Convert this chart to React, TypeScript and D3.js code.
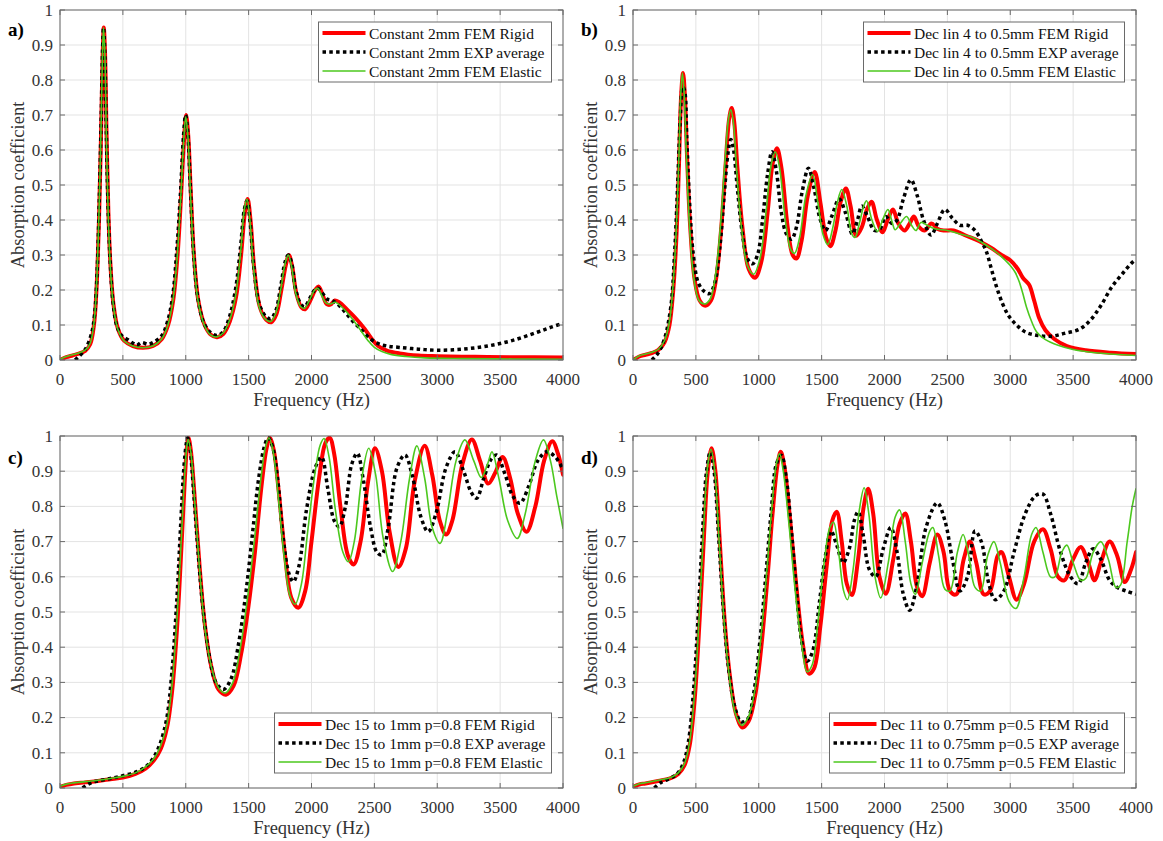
import React from "react";
import * as d3 from "d3";

type Pt = [number, number];

// ---------- axis ticks ----------
const freqTicks = [0, 500, 1000, 1500, 2000, 2500, 3000, 3500, 4000];
const absTicks = [0, 0.1, 0.2, 0.3, 0.4, 0.5, 0.6, 0.7, 0.8, 0.9, 1];

// ---------- panel a ----------
const aRigid: Pt[] = [[0,0.0],[50,0.008],[100,0.013],[150,0.018],[200,0.026],[240,0.045],[270,0.1],[290,0.2],[310,0.4],[325,0.62],[338,0.85],[348,0.95],[358,0.88],[370,0.65],[385,0.42],[400,0.28],[425,0.16],[460,0.09],[510,0.055],[580,0.04],[660,0.035],[740,0.04],[810,0.06],[860,0.1],[900,0.17],[935,0.3],[960,0.45],[985,0.62],[1003,0.7],[1020,0.64],[1040,0.48],[1065,0.3],[1100,0.17],[1150,0.1],[1200,0.072],[1250,0.065],[1300,0.075],[1350,0.11],[1400,0.18],[1440,0.3],[1470,0.42],[1492,0.46],[1515,0.4],[1545,0.26],[1590,0.15],[1640,0.115],[1680,0.108],[1720,0.13],[1760,0.2],[1795,0.27],[1820,0.3],[1845,0.27],[1880,0.19],[1920,0.15],[1950,0.145],[1990,0.17],[2030,0.2],[2055,0.21],[2085,0.19],[2120,0.16],[2150,0.158],[2185,0.17],[2220,0.165],[2280,0.145],[2350,0.12],[2420,0.09],[2480,0.06],[2530,0.04],[2600,0.027],[2700,0.019],[2850,0.013],[3000,0.011],[3300,0.009],[3600,0.008],[4000,0.007]];
const aExp: Pt[] = [[120,0.0],[150,0.01],[200,0.03],[250,0.075],[275,0.13],[295,0.25],[312,0.45],[327,0.68],[338,0.88],[346,0.95],[356,0.88],[368,0.66],[382,0.44],[398,0.29],[420,0.17],[450,0.1],[490,0.07],[540,0.058],[580,0.048],[610,0.042],[650,0.05],[700,0.045],[750,0.052],[810,0.07],[855,0.11],[895,0.18],[930,0.32],[957,0.47],[982,0.64],[999,0.7],[1016,0.65],[1036,0.5],[1060,0.32],[1095,0.18],[1145,0.105],[1200,0.078],[1250,0.07],[1300,0.082],[1345,0.12],[1395,0.2],[1435,0.32],[1466,0.43],[1488,0.455],[1510,0.4],[1540,0.27],[1585,0.16],[1635,0.125],[1675,0.118],[1715,0.14],[1755,0.21],[1790,0.28],[1815,0.3],[1840,0.28],[1875,0.2],[1915,0.16],[1945,0.152],[1985,0.175],[2025,0.2],[2050,0.205],[2080,0.195],[2120,0.175],[2160,0.17],[2200,0.162],[2260,0.14],[2330,0.11],[2400,0.085],[2470,0.06],[2530,0.047],[2600,0.04],[2700,0.036],[2850,0.031],[3000,0.028],[3200,0.031],[3400,0.04],[3600,0.056],[3800,0.08],[3900,0.093],[4000,0.105]];
const aElastic: Pt[] = [[0,0.002],[50,0.01],[100,0.015],[150,0.02],[200,0.028],[240,0.048],[270,0.105],[290,0.21],[310,0.42],[325,0.64],[337,0.86],[346,0.95],[356,0.88],[368,0.65],[383,0.42],[398,0.28],[423,0.16],[458,0.09],[508,0.055],[578,0.04],[658,0.035],[738,0.04],[808,0.06],[858,0.1],[898,0.17],[933,0.3],[958,0.45],[983,0.62],[1000,0.695],[1017,0.64],[1037,0.48],[1062,0.3],[1097,0.17],[1147,0.1],[1197,0.072],[1247,0.066],[1297,0.077],[1347,0.112],[1397,0.185],[1437,0.31],[1466,0.43],[1487,0.46],[1510,0.4],[1540,0.26],[1585,0.15],[1635,0.116],[1675,0.11],[1715,0.133],[1755,0.2],[1790,0.275],[1815,0.3],[1840,0.27],[1875,0.19],[1915,0.152],[1945,0.148],[1985,0.172],[2025,0.2],[2050,0.205],[2080,0.185],[2115,0.163],[2150,0.16],[2190,0.165],[2230,0.155],[2280,0.137],[2340,0.11],[2400,0.08],[2450,0.055],[2500,0.036],[2560,0.024],[2630,0.016],[2750,0.01],[2900,0.006],[3200,0.004],[3600,0.003],[4000,0.002]];

// ---------- panel b ----------
const bRigid: Pt[] = [[0,0.0],[50,0.01],[100,0.015],[150,0.02],[200,0.028],[250,0.05],[290,0.1],[320,0.2],[345,0.35],[365,0.55],[382,0.75],[398,0.82],[412,0.76],[430,0.58],[455,0.38],[490,0.23],[530,0.17],[575,0.155],[620,0.17],[660,0.23],[700,0.37],[735,0.55],[765,0.69],[785,0.72],[805,0.68],[830,0.55],[870,0.38],[920,0.26],[970,0.235],[1020,0.28],[1070,0.42],[1110,0.56],[1145,0.605],[1180,0.55],[1230,0.38],[1270,0.3],[1300,0.29],[1340,0.34],[1390,0.47],[1445,0.537],[1490,0.45],[1535,0.35],[1570,0.325],[1610,0.37],[1650,0.45],[1693,0.49],[1730,0.44],[1775,0.355],[1820,0.38],[1860,0.43],[1897,0.452],[1940,0.4],[1985,0.365],[2025,0.4],[2067,0.43],[2110,0.39],[2160,0.37],[2200,0.39],[2234,0.41],[2275,0.38],[2320,0.37],[2374,0.39],[2420,0.375],[2470,0.37],[2550,0.37],[2650,0.355],[2750,0.34],[2850,0.32],[2930,0.3],[3000,0.285],[3060,0.26],[3100,0.235],[3150,0.215],[3190,0.17],[3230,0.12],[3280,0.085],[3350,0.06],[3450,0.04],[3600,0.028],[3800,0.021],[4000,0.017]];
const bExp: Pt[] = [[150,0.0],[200,0.02],[250,0.06],[300,0.15],[330,0.3],[355,0.5],[375,0.68],[395,0.78],[410,0.77],[428,0.63],[450,0.45],[480,0.3],[520,0.22],[570,0.195],[610,0.19],[650,0.22],[690,0.32],[725,0.47],[755,0.59],[778,0.63],[800,0.6],[830,0.49],[870,0.36],[910,0.29],[950,0.275],[990,0.3],[1030,0.4],[1070,0.53],[1105,0.595],[1140,0.54],[1180,0.42],[1220,0.36],[1260,0.345],[1300,0.38],[1345,0.48],[1395,0.548],[1440,0.49],[1490,0.4],[1530,0.37],[1580,0.41],[1640,0.46],[1690,0.42],[1745,0.36],[1785,0.4],[1820,0.44],[1865,0.41],[1920,0.37],[1965,0.375],[2010,0.41],[2060,0.39],[2100,0.4],[2150,0.46],[2210,0.515],[2260,0.47],[2310,0.4],[2370,0.357],[2420,0.39],[2480,0.43],[2540,0.405],[2600,0.385],[2660,0.385],[2720,0.37],[2770,0.34],[2810,0.31],[2850,0.26],[2890,0.21],[2940,0.16],[2990,0.125],[3050,0.1],[3120,0.08],[3220,0.07],[3330,0.068],[3430,0.076],[3550,0.088],[3640,0.115],[3720,0.155],[3810,0.21],[3900,0.25],[3960,0.275],[4000,0.288]];
const bElastic: Pt[] = [[0,0.0],[50,0.012],[100,0.017],[150,0.022],[200,0.03],[250,0.055],[290,0.11],[320,0.22],[345,0.38],[365,0.58],[380,0.76],[393,0.82],[407,0.76],[425,0.58],[450,0.38],[485,0.23],[525,0.17],[570,0.16],[615,0.175],[655,0.24],[695,0.38],[730,0.56],[760,0.69],[778,0.715],[798,0.68],[823,0.55],[862,0.38],[910,0.27],[960,0.245],[1010,0.29],[1060,0.43],[1100,0.56],[1132,0.595],[1165,0.55],[1215,0.39],[1255,0.315],[1285,0.305],[1325,0.35],[1375,0.47],[1428,0.53],[1470,0.45],[1510,0.36],[1548,0.33],[1590,0.38],[1625,0.45],[1660,0.487],[1700,0.44],[1740,0.36],[1765,0.35],[1800,0.39],[1835,0.44],[1857,0.455],[1900,0.4],[1945,0.367],[1985,0.4],[2027,0.43],[2060,0.395],[2085,0.372],[2125,0.39],[2176,0.41],[2215,0.385],[2250,0.37],[2290,0.393],[2340,0.385],[2400,0.375],[2500,0.37],[2600,0.36],[2700,0.35],[2800,0.33],[2900,0.305],[2960,0.285],[3000,0.27],[3040,0.25],[3070,0.225],[3100,0.19],[3130,0.15],[3170,0.11],[3210,0.08],[3280,0.058],[3380,0.042],[3500,0.03],[3700,0.02],[4000,0.013]];

// ---------- panel c ----------
const cRigid: Pt[] = [[0,0.003],[50,0.009],[100,0.012],[200,0.016],[300,0.02],[400,0.025],[500,0.03],[600,0.04],[680,0.055],[750,0.08],[800,0.11],[850,0.17],[890,0.27],[930,0.45],[965,0.68],[990,0.86],[1010,0.97],[1022,0.995],[1040,0.96],[1070,0.83],[1110,0.63],[1150,0.47],[1200,0.35],[1260,0.28],[1320,0.265],[1380,0.29],[1440,0.38],[1500,0.52],[1550,0.67],[1600,0.85],[1640,0.96],[1668,0.995],[1700,0.96],[1740,0.84],[1790,0.66],[1840,0.54],[1895,0.512],[1950,0.56],[2000,0.7],[2060,0.88],[2110,0.98],[2145,0.995],[2180,0.95],[2230,0.8],[2290,0.66],[2335,0.635],[2390,0.7],[2450,0.87],[2505,0.965],[2560,0.9],[2620,0.73],[2690,0.628],[2750,0.68],[2820,0.87],[2900,0.972],[2960,0.89],[3020,0.76],[3070,0.72],[3120,0.76],[3200,0.92],[3275,0.99],[3340,0.93],[3405,0.865],[3460,0.895],[3520,0.94],[3580,0.88],[3640,0.78],[3710,0.728],[3780,0.8],[3850,0.93],[3915,0.985],[3960,0.95],[4000,0.89]];
const cExp: Pt[] = [[180,0.0],[220,0.01],[260,0.017],[300,0.02],[400,0.027],[500,0.035],[600,0.045],[680,0.06],[750,0.09],[800,0.13],[850,0.2],[890,0.33],[930,0.54],[960,0.75],[985,0.91],[1005,0.98],[1015,0.995],[1035,0.96],[1065,0.83],[1100,0.66],[1140,0.5],[1190,0.37],[1240,0.3],[1300,0.28],[1360,0.31],[1420,0.41],[1480,0.56],[1530,0.72],[1580,0.88],[1625,0.97],[1655,0.995],[1690,0.97],[1730,0.88],[1775,0.71],[1820,0.61],[1855,0.586],[1900,0.63],[1960,0.79],[2030,0.91],[2080,0.94],[2130,0.85],[2180,0.76],[2221,0.742],[2270,0.8],[2320,0.92],[2364,0.951],[2410,0.88],[2470,0.74],[2520,0.67],[2558,0.662],[2610,0.74],[2680,0.91],[2743,0.946],[2800,0.89],[2870,0.77],[2928,0.728],[2990,0.78],[3070,0.91],[3141,0.955],[3210,0.9],[3270,0.84],[3313,0.823],[3370,0.88],[3430,0.935],[3472,0.946],[3540,0.89],[3600,0.83],[3658,0.809],[3730,0.86],[3800,0.93],[3870,0.955],[3940,0.94],[4000,0.905]];
const cElastic: Pt[] = [[0,0.005],[50,0.011],[100,0.014],[200,0.018],[300,0.022],[400,0.027],[500,0.033],[600,0.043],[680,0.06],[750,0.085],[800,0.12],[850,0.18],[890,0.29],[930,0.48],[965,0.71],[990,0.88],[1010,0.975],[1020,0.99],[1040,0.955],[1070,0.82],[1110,0.62],[1150,0.46],[1200,0.35],[1260,0.285],[1315,0.27],[1375,0.3],[1435,0.4],[1495,0.55],[1545,0.7],[1595,0.87],[1635,0.97],[1662,0.995],[1695,0.955],[1735,0.83],[1785,0.65],[1830,0.545],[1870,0.522],[1920,0.58],[1970,0.73],[2030,0.9],[2070,0.975],[2100,0.993],[2140,0.94],[2190,0.79],[2250,0.67],[2293,0.643],[2340,0.7],[2400,0.88],[2455,0.965],[2510,0.89],[2570,0.71],[2645,0.615],[2710,0.7],[2780,0.88],[2838,0.972],[2900,0.88],[2960,0.74],[3022,0.695],[3080,0.78],[3150,0.93],[3220,0.989],[3290,0.93],[3350,0.882],[3400,0.92],[3435,0.955],[3490,0.88],[3560,0.76],[3636,0.709],[3700,0.78],[3780,0.93],[3845,0.989],[3900,0.93],[3950,0.83],[4000,0.738]];

// ---------- panel d ----------
const dRigid: Pt[] = [[0,0.003],[50,0.01],[100,0.013],[200,0.02],[300,0.028],[360,0.04],[410,0.065],[450,0.12],[490,0.25],[530,0.48],[565,0.72],[595,0.9],[625,0.965],[655,0.9],[690,0.7],[730,0.47],[770,0.32],[820,0.21],[870,0.172],[920,0.19],[970,0.26],[1020,0.4],[1070,0.6],[1110,0.78],[1150,0.92],[1175,0.955],[1205,0.91],[1250,0.76],[1300,0.57],[1350,0.41],[1400,0.325],[1440,0.34],[1490,0.46],[1540,0.63],[1585,0.76],[1620,0.785],[1660,0.7],[1700,0.58],[1740,0.548],[1790,0.65],[1835,0.8],[1870,0.85],[1910,0.78],[1960,0.6],[2010,0.552],[2070,0.65],[2120,0.75],[2165,0.78],[2210,0.7],[2260,0.57],[2300,0.545],[2360,0.64],[2420,0.72],[2470,0.67],[2520,0.56],[2570,0.55],[2630,0.65],[2680,0.7],[2730,0.64],[2790,0.55],[2840,0.56],[2900,0.66],[2930,0.67],[2990,0.6],[3050,0.535],[3110,0.58],[3190,0.7],[3260,0.735],[3320,0.68],[3380,0.6],[3430,0.59],[3500,0.65],[3560,0.685],[3620,0.64],[3670,0.59],[3720,0.64],[3790,0.7],[3850,0.66],[3910,0.585],[3960,0.62],[4000,0.67]];
const dExp: Pt[] = [[170,0.0],[220,0.015],[280,0.025],[350,0.04],[400,0.07],[440,0.13],[480,0.27],[520,0.5],[555,0.74],[585,0.9],[615,0.955],[645,0.9],[680,0.72],[720,0.5],[760,0.34],[810,0.23],[860,0.188],[910,0.195],[960,0.27],[1010,0.42],[1060,0.62],[1100,0.79],[1140,0.92],[1180,0.945],[1215,0.89],[1260,0.73],[1300,0.56],[1340,0.42],[1385,0.36],[1430,0.39],[1480,0.52],[1530,0.66],[1575,0.73],[1620,0.69],[1670,0.64],[1720,0.68],[1760,0.76],[1790,0.785],[1830,0.72],[1880,0.62],[1930,0.6],[1990,0.68],[2050,0.74],[2100,0.67],[2150,0.55],[2200,0.505],[2260,0.58],[2330,0.74],[2420,0.81],[2480,0.76],[2540,0.65],[2600,0.56],[2660,0.6],[2720,0.73],[2770,0.7],[2830,0.58],[2880,0.535],[2950,0.56],[3030,0.67],[3120,0.78],[3200,0.83],[3260,0.835],[3320,0.78],[3400,0.67],[3480,0.6],[3540,0.58],[3600,0.64],[3660,0.68],[3720,0.65],[3790,0.59],[3850,0.57],[3920,0.56],[4000,0.55]];
const dElastic: Pt[] = [[0,0.005],[50,0.012],[100,0.015],[200,0.022],[300,0.03],[360,0.043],[410,0.07],[450,0.13],[490,0.27],[528,0.5],[562,0.74],[592,0.91],[620,0.962],[650,0.9],[685,0.7],[725,0.47],[765,0.32],[815,0.21],[865,0.178],[915,0.2],[965,0.27],[1015,0.42],[1065,0.62],[1105,0.8],[1140,0.92],[1165,0.95],[1195,0.9],[1240,0.75],[1290,0.56],[1340,0.41],[1385,0.33],[1425,0.35],[1470,0.47],[1520,0.64],[1565,0.74],[1595,0.755],[1635,0.67],[1675,0.56],[1705,0.535],[1750,0.62],[1800,0.79],[1838,0.853],[1875,0.78],[1925,0.6],[1970,0.54],[2030,0.64],[2085,0.77],[2120,0.79],[2165,0.7],[2210,0.58],[2245,0.55],[2300,0.64],[2360,0.73],[2385,0.74],[2430,0.66],[2480,0.565],[2520,0.56],[2580,0.67],[2625,0.72],[2670,0.66],[2720,0.57],[2765,0.56],[2820,0.66],[2870,0.7],[2920,0.64],[2990,0.53],[3045,0.51],[3110,0.6],[3170,0.72],[3205,0.74],[3260,0.67],[3320,0.6],[3355,0.6],[3410,0.67],[3450,0.69],[3500,0.64],[3560,0.59],[3600,0.595],[3660,0.67],[3720,0.7],[3780,0.65],[3840,0.57],[3875,0.575],[3930,0.7],[3970,0.8],[4000,0.85]];

// ---------- legend names ----------
const aNames = ["Constant 2mm FEM Rigid", "Constant 2mm EXP average", "Constant 2mm FEM Elastic"];
const bNames = ["Dec lin 4 to 0.5mm FEM Rigid", "Dec lin 4 to 0.5mm EXP average", "Dec lin 4 to 0.5mm FEM Elastic"];
const cNames = ["Dec 15 to 1mm p=0.8 FEM Rigid", "Dec 15 to 1mm p=0.8 EXP average", "Dec 15 to 1mm p=0.8 FEM Elastic"];
const dNames = ["Dec 11 to 0.75mm p=0.5 FEM Rigid", "Dec 11 to 0.75mm p=0.5 EXP average", "Dec 11 to 0.75mm p=0.5 FEM Elastic"];

const FONT = "Liberation Serif, Times New Roman, Times, serif";
const RED = "#ff0000";
const GREEN = "#4cc81e";
const AXIS = "#6a6a6a";
const TXT = "#333333";

const styles = [
  { stroke: RED, width: 4, dash: undefined as string | undefined },
  { stroke: "#000000", width: 3.5, dash: "3.5 3.3" },
  { stroke: GREEN, width: 1.6, dash: undefined as string | undefined },
];

interface PanelCfg {
  id: string;
  label: string;
  left: number;
  top: number;
  w: number;
  h: number;
  series: Pt[][];
  names: string[];
  legendPos: "top" | "bottom";
  legendW: number;
}

const panels: PanelCfg[] = [
  { id: "a", label: "a)", left: 60, top: 10, w: 503, h: 350, series: [aRigid, aExp, aElastic], names: aNames, legendPos: "top", legendW: 233 },
  { id: "b", label: "b)", left: 633, top: 10, w: 503, h: 350, series: [bRigid, bExp, bElastic], names: bNames, legendPos: "top", legendW: 261 },
  { id: "c", label: "c)", left: 60, top: 436, w: 503, h: 352, series: [cRigid, cExp, cElastic], names: cNames, legendPos: "bottom", legendW: 277 },
  { id: "d", label: "d)", left: 633, top: 436, w: 503, h: 352, series: [dRigid, dExp, dElastic], names: dNames, legendPos: "bottom", legendW: 295 },
];

function Panel({ p }: { p: PanelCfg }) {
  const x = d3.scaleLinear().domain([0, 4000]).range([p.left, p.left + p.w]);
  const y = d3.scaleLinear().domain([0, 1]).range([p.top + p.h, p.top]);
  const line = d3
    .line<Pt>()
    .x((d) => x(d[0]))
    .y((d) => y(d[1]))
    .curve(d3.curveCatmullRom.alpha(0.5));
  const right = p.left + p.w;
  const bottom = p.top + p.h;
  const tl = 5;
  const lgRight = right - 11.5;
  const lgLeft = lgRight - p.legendW;
  const lgTop = p.legendPos === "top" ? p.top + 12 : bottom - 75;
  const lgH = 60;
  const clipId = "clip-" + p.id;
  const txtStyle = { fontFamily: FONT };
  return (
    <g>
      <defs>
        <clipPath id={clipId}>
          <rect x={p.left} y={p.top} width={p.w} height={p.h} />
        </clipPath>
      </defs>
      <rect x={p.left} y={p.top} width={p.w} height={p.h} fill="#fff" />
      {/* grid */}
      {freqTicks.map((t) => (
        <line key={"gx" + t} x1={x(t)} x2={x(t)} y1={p.top} y2={bottom} stroke="#e3e3e3" strokeWidth={1} />
      ))}
      {absTicks.map((t) => (
        <line key={"gy" + t} x1={p.left} x2={right} y1={y(t)} y2={y(t)} stroke="#e3e3e3" strokeWidth={1} />
      ))}
      {/* series */}
      <g clipPath={`url(#${clipId})`}>
        {p.series.map((s, i) => (
          <path
            key={i}
            d={line(s) || ""}
            fill="none"
            stroke={styles[i].stroke}
            strokeWidth={styles[i].width}
            strokeDasharray={styles[i].dash}
            strokeLinejoin="round"
            strokeLinecap={i === 1 ? "butt" : "round"}
          />
        ))}
      </g>
      {/* box */}
      <rect x={p.left} y={p.top} width={p.w} height={p.h} fill="none" stroke={AXIS} strokeWidth={1} />
      {/* ticks */}
      {freqTicks.map((t) => (
        <g key={"tx" + t}>
          <line x1={x(t)} x2={x(t)} y1={bottom} y2={bottom - tl} stroke={AXIS} />
          <line x1={x(t)} x2={x(t)} y1={p.top} y2={p.top + tl} stroke={AXIS} />
          <text x={x(t)} y={bottom + 25} textAnchor="middle" fontSize={17} fill={TXT} style={txtStyle}>
            {t}
          </text>
        </g>
      ))}
      {absTicks.map((t) => (
        <g key={"ty" + t}>
          <line x1={p.left} x2={p.left + tl} y1={y(t)} y2={y(t)} stroke={AXIS} />
          <line x1={right} x2={right - tl} y1={y(t)} y2={y(t)} stroke={AXIS} />
          <text x={p.left - 7} y={y(t) + 5.8} textAnchor="end" fontSize={17} fill={TXT} style={txtStyle}>
            {d3.format("~g")(t)}
          </text>
        </g>
      ))}
      {/* axis labels */}
      <text x={p.left + p.w / 2} y={bottom + 46} textAnchor="middle" fontSize={18.5} fill={TXT} style={txtStyle}>
        Frequency (Hz)
      </text>
      <text
        transform={`translate(${p.left - 36.5},${p.top + p.h / 2}) rotate(-90)`}
        textAnchor="middle"
        fontSize={18.5}
        fill={TXT}
        style={txtStyle}
      >
        Absorption coefficient
      </text>
      {/* panel letter */}
      <text x={p.left - 52} y={p.top + (p.legendPos === "top" ? 26 : 28)} fontSize={19} fontWeight="bold" fill="#000" style={txtStyle}>
        {p.label}
      </text>
      {/* legend */}
      <rect x={lgLeft} y={lgTop} width={p.legendW} height={lgH} fill="#fff" stroke={AXIS} strokeWidth={1} />
      {p.names.map((n, i) => {
        const cy = lgTop + 11 + i * 19;
        return (
          <g key={n}>
            <line
              x1={lgLeft + 4}
              x2={lgLeft + 47}
              y1={cy}
              y2={cy}
              stroke={styles[i].stroke}
              strokeWidth={styles[i].width}
              strokeDasharray={styles[i].dash}
            />
            <text x={lgLeft + 50.5} y={cy + 5.5} fontSize={15.5} fill="#111" style={txtStyle}>
              {n}
            </text>
          </g>
        );
      })}
    </g>
  );
}

export default function App() {
  return (
    <div style={{ position: "absolute", left: 0, top: 0 }}>
      <svg width={1163} height={841} style={{ display: "block", background: "#fff" }}>
        <rect x={0} y={0} width={1163} height={841} fill="#fff" />
        {panels.map((p) => (
          <Panel key={p.id} p={p} />
        ))}
      </svg>
    </div>
  );
}
